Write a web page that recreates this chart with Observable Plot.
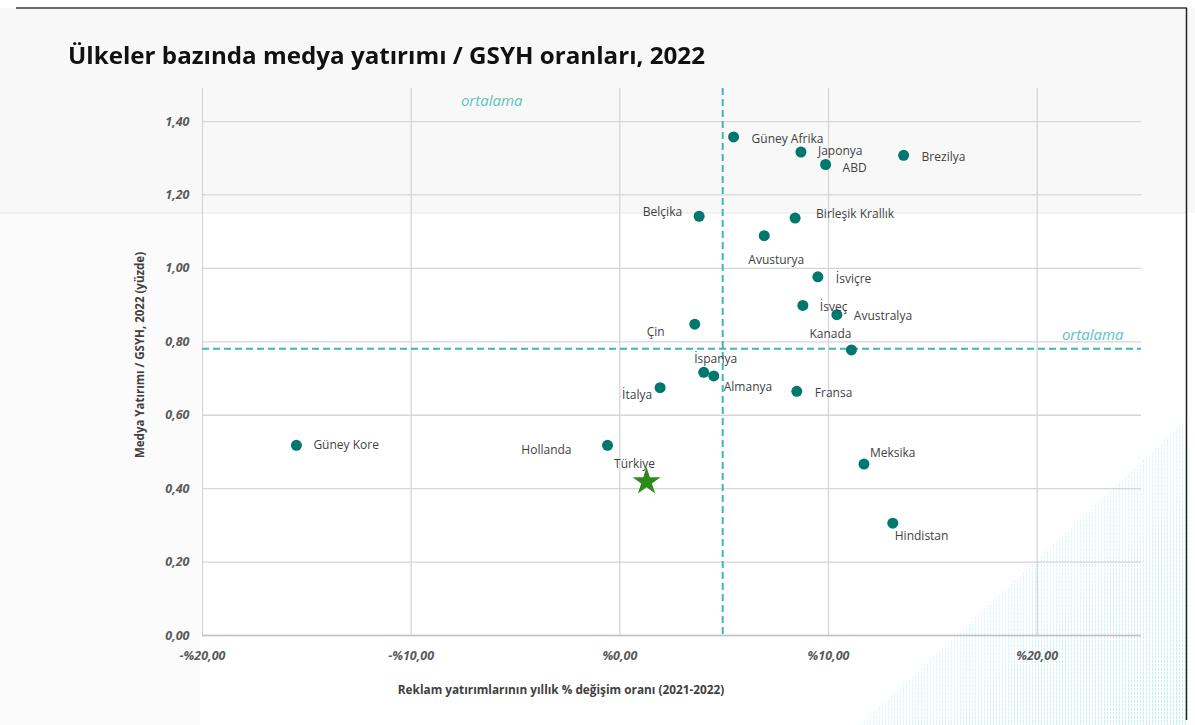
<!DOCTYPE html>
<html>
<head>
<meta charset="utf-8">
<script src="https://cdn.jsdelivr.net/npm/d3@7"></script>
<script src="https://cdn.jsdelivr.net/npm/@observablehq/plot@0.6"></script>
<style>
  html, body { margin: 0; padding: 0; background: #ffffff; }
  #wrap { position: relative; width: 1195px; height: 725px; overflow: hidden; font-family: "Open Sans", sans-serif; }
  #bg { position: absolute; left: 0; top: 0; }
  #chart { position: absolute; left: 0; top: 0; }
  #title { position: absolute; left: 68px; top: 40px; font-family: "Open Sans", sans-serif; font-weight: 700;
           font-size: 24px; line-height: 30px; color: #111; white-space: nowrap; transform-origin: left center; }
</style>
</head>
<body>
<div id="wrap">
  <svg id="bg" width="1195" height="725">
    <defs>
      <pattern id="tex" width="3" height="4" patternUnits="userSpaceOnUse">
        <rect x="0" y="0" width="1" height="3" fill="#8fe3e6"></rect>
      </pattern>
      <linearGradient id="fade" x1="0" y1="0" x2="1" y2="1">
        <stop offset="0" stop-color="#fff" stop-opacity="0"></stop>
        <stop offset="1" stop-color="#fff" stop-opacity="1"></stop>
      </linearGradient>
      <mask id="m"><rect x="860" y="400" width="335" height="325" fill="url(#fade)"></rect></mask>
    </defs>
    <rect x="0" y="8" width="1195" height="205" fill="#f8f8f8"></rect>
    <rect x="0" y="213" width="200" height="512" fill="#fbfbfb"></rect>
    <line x1="0" y1="213" x2="1186" y2="213" stroke="#eeeeee" stroke-width="1.5"></line>
    <polygon points="860,725 1186,420 1186,725" fill="url(#tex)" opacity="0.6" mask="url(#m)"></polygon>
    <line x1="16" y1="8" x2="1187" y2="8" stroke="#3a3a3a" stroke-width="1.5"></line>
    <line x1="1186.5" y1="8" x2="1186.5" y2="720" stroke="#222" stroke-width="1.5"></line>
  </svg>
  <div id="chart"></div>
  <div id="title">Ülkeler bazında medya yatırımı / GSYH oranları, 2022</div>
</div>
<script>
// ---- data ----
const countries = ["Güney Kore","Hollanda","İtalya","İspanya","Almanya","Çin","Fransa","İsveç","Avustralya","Kanada",
  "Güney Afrika","Japonya","ABD","Brezilya","Belçika","Birleşik Krallık","Avusturya","İsviçre","Meksika","Hindistan"];
const adGrowth = [-15.5,-0.59,1.93,4.02,4.5,3.59,8.48,8.77,10.4,11.1,5.45,8.68,9.86,13.6,3.8,8.4,6.92,9.49,11.7,13.08];
const mediaGdp = [0.518,0.518,0.675,0.717,0.707,0.848,0.665,0.899,0.874,0.778,1.358,1.317,1.283,1.308,1.142,1.137,1.089,0.977,0.467,0.306];
const turkeyName = ["Türkiye"];
const turkeyX = [1.28];
const turkeyY = [0.419];
const avgX = [4.93];
const avgY = [0.781];
const xTicks = [-20,-10,0,10,20];
const yTicks = [0,0.2,0.4,0.6,0.8,1.0,1.2,1.4];
const avgLabel = "ortalama";
const xTitle = "Reklam yatırımlarının yıllık % değişim oranı (2021-2022)";
const yTitle = "Medya Yatırımı / GSYH, 2022 (yüzde)";

// ---- label placement (styling) ----
const place = {
  "Güney Kore": ["start", 17, 0],
  "Hollanda": ["end", -36, 5],
  "İtalya": ["end", -8, 7],
  "İspanya": ["middle", 12, -13],
  "Almanya": ["start", 10, 11],
  "Çin": ["middle", -39, 8],
  "Fransa": ["start", 18, 2],
  "İsveç": ["start", 17, 2],
  "Avustralya": ["start", 17, 2],
  "Kanada": ["middle", -21, -16],
  "Güney Afrika": ["start", 18, 2],
  "Japonya": ["start", 17, -1],
  "ABD": ["start", 17, 4],
  "Brezilya": ["start", 18, 2],
  "Belçika": ["end", -17, -4],
  "Birleşik Krallık": ["start", 21, -4],
  "Avusturya": ["middle", 12, 24],
  "İsviçre": ["start", 18, 2],
  "Meksika": ["start", 6, -11],
  "Hindistan": ["start", 2, 13]
};

const pts = countries.map((c, i) => ({name: c, x: adGrowth[i], y: mediaGdp[i]}));
const tr = turkeyName.map((c, i) => ({name: c, x: turkeyX[i], y: turkeyY[i]}));

const fmtNum = v => d3.format(".2f")(Math.abs(v)).replace(".", ",");
const fmtX = v => (v < 0 ? "-" : "") + "%" + fmtNum(v);
const fmtY = v => d3.format(".2f")(v).replace(".", ",");

const labelFont = {fontSize: 12, fill: "#3f3f3f"};
const teal = "#3fb8b1";

const labelMarks = pts.map(d => {
  const [anchor, dx, dy] = place[d.name];
  return Plot.text([d], {x: "x", y: "y", text: "name", textAnchor: anchor, dx, dy, ...labelFont});
});

const chart = Plot.plot({
  width: 1195,
  height: 725,
  marginLeft: 202,
  marginRight: 54,
  marginTop: 88,
  marginBottom: 90,
  style: {background: "transparent", fontFamily: "'Open Sans', sans-serif", overflow: "visible"},
  x: {domain: [-20, 25]},
  y: {domain: [0, 1.49]},
  marks: [
    Plot.gridX(xTicks, {stroke: "#d6d6d6", strokeOpacity: 1, strokeWidth: 1.3}),
    Plot.gridY(yTicks, {stroke: "#d6d6d6", strokeOpacity: 1, strokeWidth: 1.3}),
    Plot.ruleY([0], {stroke: "#c4c4c4", strokeWidth: 1.5}),
    Plot.axisX(xTicks, {tickSize: 0, tickPadding: 16, tickFormat: fmtX, fontStyle: "italic", fontWeight: "bold",
      fill: "#5a5a5a", fontSize: 12.5, label: null}),
    Plot.axisY(yTicks, {tickSize: 0, tickPadding: 13, tickFormat: fmtY, fontStyle: "italic", fontWeight: "bold",
      fill: "#5a5a5a", fontSize: 12.5, label: null}),
    Plot.ruleX(avgX, {x: d => d, stroke: teal, strokeWidth: 2, strokeDasharray: "7,4"}),
    Plot.ruleY(avgY, {y: d => d, stroke: teal, strokeWidth: 2, strokeDasharray: "7,4"}),
    Plot.text([avgLabel], {x: avgX[0], frameAnchor: "top", text: d => d, dx: -231, dy: 7,
      fontStyle: "italic", fontSize: 15, fill: "#5cc4be"}),
    Plot.text([avgLabel], {y: avgY[0], frameAnchor: "right", text: d => d, dx: -18, dy: -14,
      fontStyle: "italic", fontSize: 15, fill: "#5cc4be"}),
    Plot.dot(pts, {x: "x", y: "y", r: 5.5, fill: "#00776f", stroke: "none"}),
    Plot.dot(tr, {x: "x", y: "y", r: 8.8, symbol: "star", fill: "#2f8a1e", stroke: "none"}),
    ...labelMarks,
    Plot.text(tr, {x: "x", y: "y", text: "name", dx: -12, dy: -18, ...labelFont}),
    Plot.text([xTitle], {frameAnchor: "bottom", text: d => d, dx: -111, dy: 58, fontWeight: "bold", fontSize: 11.8, fill: "#404040"}),
    Plot.text([yTitle], {frameAnchor: "left", textAnchor: "middle", text: d => d, rotate: -90, dx: -62, dy: -7, fontWeight: "bold", fontSize: 11.5, fill: "#404040"})
  ]
});
document.getElementById("chart").appendChild(chart);

// fit title width to the reference
const t = document.getElementById("title");
const w = t.getBoundingClientRect().width;
t.style.transform = `scaleX(${637 / w})`;
</script>
</body>
</html>
